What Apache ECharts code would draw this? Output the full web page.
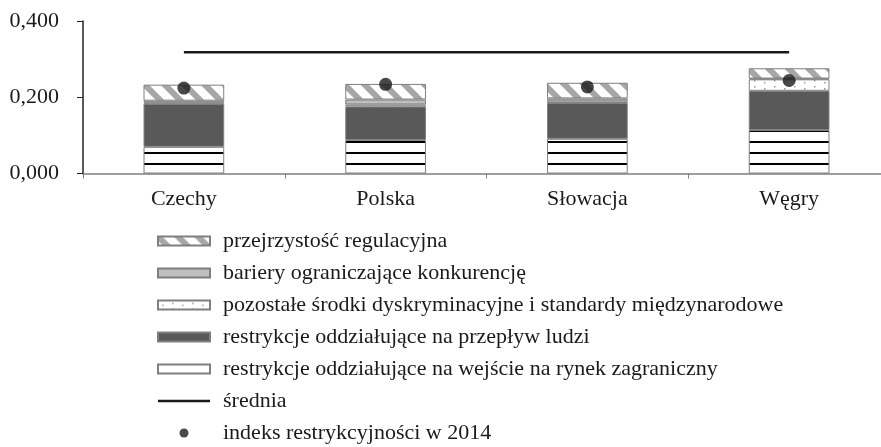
<!DOCTYPE html>
<html>
<head>
<meta charset="utf-8">
<script src="https://cdn.jsdelivr.net/npm/echarts@6/dist/echarts.min.js"></script>
<style>
  html, body { margin: 0; padding: 0; background: #fff; }
  #chart01 { width: 881px; height: 447px; }
</style>
</head>
<body>
<div id="chart01"></div>
<script>
// dane
var kraje = ["Czechy", "Polska", "Słowacja", "Węgry"];
var wejscie = [0.070, 0.088, 0.091, 0.114];
var ludzi = [0.113, 0.088, 0.094, 0.103];
var pozostale = [0.003, 0.005, 0.006, 0.030];
var bariery = [0.005, 0.013, 0.006, 0.002];
var przejrzystosc = [0.042, 0.041, 0.041, 0.027];
var srednia = [0.318, 0.318, 0.318, 0.318];
var indeks = [0.224, 0.234, 0.227, 0.244];

var serif = "Liberation Serif";

// wzory wypełnień
function hatchPattern() {
    var c = document.createElement("canvas");
    c.width = 20; c.height = 20;
    var ctx = c.getContext("2d");
    ctx.fillStyle = "#fff";
    ctx.fillRect(0, 0, 20, 20);
    ctx.strokeStyle = "#a6a6a6";
    ctx.lineWidth = 6;
    for (var k = -20; k <= 20; k += 20) {
        ctx.beginPath();
        ctx.moveTo(k - 2, -2);
        ctx.lineTo(k + 22, 22);
        ctx.stroke();
    }
    return { image: c, repeat: "repeat" };
}
function stripePattern() {
    var c = document.createElement("canvas");
    c.width = 10; c.height = 11;
    var ctx = c.getContext("2d");
    ctx.fillStyle = "#fff";
    ctx.fillRect(0, 0, 10, 11);
    ctx.fillStyle = "#000";
    ctx.fillRect(0, 9, 10, 2);
    return { image: c, repeat: "repeat" };
}
function dotPattern() {
    var c = document.createElement("canvas");
    c.width = 20; c.height = 6;
    var ctx = c.getContext("2d");
    ctx.fillStyle = "#fff";
    ctx.fillRect(0, 0, 20, 6);
    ctx.fillStyle = "#999";
    ctx.fillRect(4, 4, 1.5, 1.5);
    ctx.fillRect(14, 2, 1.5, 1.5);
    return { image: c, repeat: "repeat" };
}

var myChart01 = echarts.init(document.getElementById("chart01"));

function barSeries(name, data, color) {
    return {
        name: name,
        type: "bar",
        stack: "total",
        barWidth: "40%",
        data: data,
        itemStyle: { color: color, borderColor: "#7f7f7f", borderWidth: 1 }
    };
}

var option = {
    animation: false,
    backgroundColor: "#fff",
    grid: { left: 83, top: 21, width: 807, height: 152.5, outerBoundsMode: "none", containLabel: false },
    legend: {
        orient: "vertical",
        left: 157,
        top: 230,
        height: 230,
        padding: 0,
        itemWidth: 52,
        itemHeight: 9,
        itemGap: 10,
        selectedMode: false,
        textStyle: { fontFamily: serif, fontSize: 22, color: "#1a1a1a", lineHeight: 22, padding: [0, 0, 0, 8] },
        data: [
            { name: "przejrzystość regulacyjna", icon: "rect" },
            { name: "bariery ograniczające konkurencję", icon: "rect" },
            { name: "pozostałe środki dyskryminacyjne i standardy międzynarodowe", icon: "rect" },
            { name: "restrykcje oddziałujące na przepływ ludzi", icon: "rect" },
            { name: "restrykcje oddziałujące na wejście na rynek zagraniczny", icon: "rect" },
            { name: "średnia", icon: "path://M0,0 H52 V2.5 H0 Z" },
            { name: "indeks restrykcyjności w 2014", icon: "circle" }
        ]
    },
    xAxis: {
        type: "category",
        data: kraje,
        axisLine: { lineStyle: { color: "#7f7f7f", width: 1.5 } },
        axisTick: { show: true, length: 5, lineStyle: { color: "#7f7f7f" } },
        axisLabel: { fontFamily: serif, fontSize: 22, color: "#1a1a1a", margin: 15 }
    },
    yAxis: {
        type: "value",
        min: 0,
        max: 0.4,
        interval: 0.2,
        splitLine: { show: false },
        axisLine: { show: true, lineStyle: { color: "#222", width: 1.5 } },
        axisTick: { show: true, length: 6, lineStyle: { color: "#222" } },
        axisLabel: {
            fontFamily: serif, fontSize: 22, color: "#1a1a1a", margin: 24,
            formatter: function (v) {
                return v.toFixed(3).replace(".", ",");
            }
        }
    },
    series: [
        barSeries("restrykcje oddziałujące na wejście na rynek zagraniczny", wejscie, stripePattern()),
        barSeries("restrykcje oddziałujące na przepływ ludzi", ludzi, "#595959"),
        barSeries("pozostałe środki dyskryminacyjne i standardy międzynarodowe", pozostale, dotPattern()),
        barSeries("bariery ograniczające konkurencję", bariery, "#bfbfbf"),
        barSeries("przejrzystość regulacyjna", przejrzystosc, hatchPattern()),
        {
            name: "średnia",
            type: "line",
            data: srednia,
            symbol: "none",
            z: 5,
            lineStyle: { color: "#1a1a1a", width: 2.5 },
            itemStyle: { color: "#1a1a1a" }
        },
        {
            name: "indeks restrykcyjności w 2014",
            type: "scatter",
            data: indeks,
            symbolSize: 13,
            z: 6,
            itemStyle: { color: "#1a1a1a" }
        }
    ]
};

myChart01.setOption(option);
</script>
</body>
</html>
